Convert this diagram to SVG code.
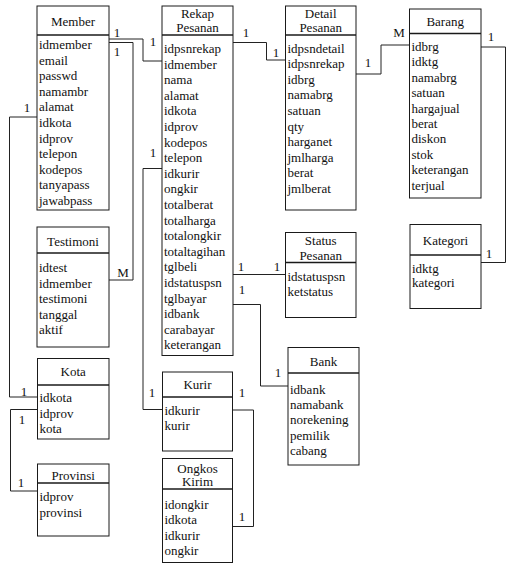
<svg xmlns="http://www.w3.org/2000/svg" width="507" height="565" viewBox="0 0 507 565" font-family="'Liberation Serif', 'Times New Roman', Times, 'DejaVu Serif', serif">
<style>
.b{fill:#fff;stroke:#1a1a1a;stroke-width:1}
.d{stroke:#1a1a1a;stroke-width:1.3}
text{font-family:'Liberation Serif','Times New Roman',Times,'DejaVu Serif',serif;font-size:13px;fill:#111}
.t{text-anchor:middle}
.c{fill:none;stroke:#222;stroke-width:1}
.l{text-anchor:middle}
</style>
<rect width="507" height="565" fill="#fff"/>
<g id="connectors">
<path class="c" d="M109,39H143V61H162"/>
<path class="c" d="M109,42.5H133V280H109"/>
<path class="c" d="M37,117H9.5V397H37.5"/>
<path class="c" d="M37.5,409.5H10.5V491H37.5"/>
<path class="c" d="M233,42.5H266.5V60H285.5"/>
<path class="c" d="M356,74H381V45H409.5"/>
<path class="c" d="M481,47H505.5V262.5H481"/>
<path class="c" d="M233,274.5H285.5"/>
<path class="c" d="M233,304.5H260.5V386H288"/>
<path class="c" d="M162,168.5H143V409.5H162.5"/>
<path class="c" d="M232.5,410H253.5V526.5H232.5"/>
<text class="l" x="117" y="37">1</text>
<text class="l" x="153" y="46">1</text>
<text class="l" x="117" y="56">1</text>
<text class="l" x="123" y="277">M</text>
<text class="l" x="27" y="112">1</text>
<text class="l" x="24" y="396">1</text>
<text class="l" x="22" y="424">1</text>
<text class="l" x="21" y="487">1</text>
<text class="l" x="246" y="37">1</text>
<text class="l" x="276" y="57">1</text>
<text class="l" x="368" y="67">1</text>
<text class="l" x="399" y="37">M</text>
<text class="l" x="491" y="41">1</text>
<text class="l" x="489" y="258">1</text>
<text class="l" x="241" y="271">1</text>
<text class="l" x="277" y="271">1</text>
<text class="l" x="242" y="294">1</text>
<text class="l" x="278" y="377">1</text>
<text class="l" x="153" y="157">1</text>
<text class="l" x="152" y="397">1</text>
<text class="l" x="242" y="397">1</text>
<text class="l" x="242" y="521">1</text>
</g>
<g id="member">
<rect class="b" x="37" y="6" width="72" height="204"/>
<line class="d" x1="37" y1="35" x2="109" y2="35"/>
<text class="t" x="73" y="25.5">Member</text>
<text x="39" y="49">idmember</text>
<text x="39" y="64.6">email</text>
<text x="39" y="80.2">passwd</text>
<text x="39" y="95.8">namambr</text>
<text x="39" y="111.4">alamat</text>
<text x="39" y="127">idkota</text>
<text x="39" y="142.6">idprov</text>
<text x="39" y="158.2">telepon</text>
<text x="39" y="173.8">kodepos</text>
<text x="39" y="189.4">tanyapass</text>
<text x="39" y="205">jawabpass</text>
</g>
<g id="rekap">
<rect class="b" x="162" y="6" width="71" height="349.5"/>
<line class="d" x1="162" y1="35" x2="233" y2="35"/>
<text class="t" x="197.5" y="17.5">Rekap</text>
<text class="t" x="197.5" y="32">Pesanan</text>
<text x="164" y="53">idpsnrekap</text>
<text x="164" y="68.6">idmember</text>
<text x="164" y="84.2">nama</text>
<text x="164" y="99.8">alamat</text>
<text x="164" y="115.4">idkota</text>
<text x="164" y="131">idprov</text>
<text x="164" y="146.6">kodepos</text>
<text x="164" y="162.2">telepon</text>
<text x="164" y="177.8">idkurir</text>
<text x="164" y="193.4">ongkir</text>
<text x="164" y="209">totalberat</text>
<text x="164" y="224.6">totalharga</text>
<text x="164" y="240.2">totalongkir</text>
<text x="164" y="255.8">totaltagihan</text>
<text x="164" y="271.4">tglbeli</text>
<text x="164" y="287">idstatuspsn</text>
<text x="164" y="302.6">tglbayar</text>
<text x="164" y="318.2">idbank</text>
<text x="164" y="333.8">carabayar</text>
<text x="164" y="349.4">keterangan</text>
</g>
<g id="detail">
<rect class="b" x="285.5" y="6" width="70.5" height="204"/>
<line class="d" x1="285.5" y1="35" x2="356" y2="35"/>
<text class="t" x="320.7" y="17.5">Detail</text>
<text class="t" x="320.7" y="32">Pesanan</text>
<text x="287.5" y="52.5">idpsndetail</text>
<text x="287.5" y="68.1">idpsnrekap</text>
<text x="287.5" y="83.7">idbrg</text>
<text x="287.5" y="99.3">namabrg</text>
<text x="287.5" y="114.9">satuan</text>
<text x="287.5" y="130.5">qty</text>
<text x="287.5" y="146.1">harganet</text>
<text x="287.5" y="161.7">jmlharga</text>
<text x="287.5" y="177.3">berat</text>
<text x="287.5" y="192.9">jmlberat</text>
</g>
<g id="barang">
<rect class="b" x="409.5" y="9" width="71.5" height="189"/>
<line class="d" x1="409.5" y1="33.5" x2="481" y2="33.5"/>
<text class="t" x="445.2" y="26">Barang</text>
<text x="411.5" y="51">idbrg</text>
<text x="411.5" y="66.4">idktg</text>
<text x="411.5" y="81.8">namabrg</text>
<text x="411.5" y="97.2">satuan</text>
<text x="411.5" y="112.6">hargajual</text>
<text x="411.5" y="128">berat</text>
<text x="411.5" y="143.4">diskon</text>
<text x="411.5" y="158.8">stok</text>
<text x="411.5" y="174.2">keterangan</text>
<text x="411.5" y="189.6">terjual</text>
</g>
<g id="testimoni">
<rect class="b" x="37" y="227" width="72" height="120"/>
<line class="d" x1="37" y1="253" x2="109" y2="253"/>
<text class="t" x="73" y="246">Testimoni</text>
<text x="39" y="272">idtest</text>
<text x="39" y="287.6">idmember</text>
<text x="39" y="303.2">testimoni</text>
<text x="39" y="318.8">tanggal</text>
<text x="39" y="334.4">aktif</text>
</g>
<g id="status">
<rect class="b" x="285.5" y="232.5" width="70.5" height="85"/>
<line class="d" x1="285.5" y1="262.5" x2="356" y2="262.5"/>
<text class="t" x="320.7" y="244.5">Status</text>
<text class="t" x="320.7" y="260">Pesanan</text>
<text x="287.5" y="281">idstatuspsn</text>
<text x="287.5" y="296">ketstatus</text>
</g>
<g id="kategori">
<rect class="b" x="410" y="224.5" width="71" height="84"/>
<line class="d" x1="410" y1="255" x2="481" y2="255"/>
<text class="t" x="445.5" y="244.5">Kategori</text>
<text x="412" y="272.5">idktg</text>
<text x="412" y="287">kategori</text>
</g>
<g id="kota">
<rect class="b" x="37.5" y="358.5" width="71.5" height="80.5"/>
<line class="d" x1="37.5" y1="385" x2="109" y2="385"/>
<text class="t" x="73.2" y="376">Kota</text>
<text x="39.5" y="402">idkota</text>
<text x="39.5" y="417.6">idprov</text>
<text x="39.5" y="433.2">kota</text>
</g>
<g id="bank">
<rect class="b" x="288" y="347.5" width="71" height="117.5"/>
<line class="d" x1="288" y1="373" x2="359" y2="373"/>
<text class="t" x="323.5" y="366">Bank</text>
<text x="290" y="394">idbank</text>
<text x="290" y="409.2">namabank</text>
<text x="290" y="424.4">norekening</text>
<text x="290" y="439.6">pemilik</text>
<text x="290" y="454.8">cabang</text>
</g>
<g id="kurir">
<rect class="b" x="162.5" y="372" width="70" height="79"/>
<line class="d" x1="162.5" y1="397" x2="232.5" y2="397"/>
<text class="t" x="197.5" y="388.5">Kurir</text>
<text x="164.5" y="415">idkurir</text>
<text x="164.5" y="430">kurir</text>
</g>
<g id="provinsi">
<rect class="b" x="37.5" y="464" width="71.5" height="72"/>
<line class="d" x1="37.5" y1="483" x2="109" y2="483"/>
<text class="t" x="73.2" y="480">Provinsi</text>
<text x="39.5" y="501">idprov</text>
<text x="39.5" y="516.6">provinsi</text>
</g>
<g id="ongkos">
<rect class="b" x="162.5" y="458.5" width="70" height="104"/>
<line class="d" x1="162.5" y1="489" x2="232.5" y2="489"/>
<text class="t" x="197.5" y="472.5">Ongkos</text>
<text class="t" x="197.5" y="486">Kirim</text>
<text x="164.5" y="509">idongkir</text>
<text x="164.5" y="524.4">idkota</text>
<text x="164.5" y="539.8">idkurir</text>
<text x="164.5" y="555.2">ongkir</text>
</g>
</svg>
